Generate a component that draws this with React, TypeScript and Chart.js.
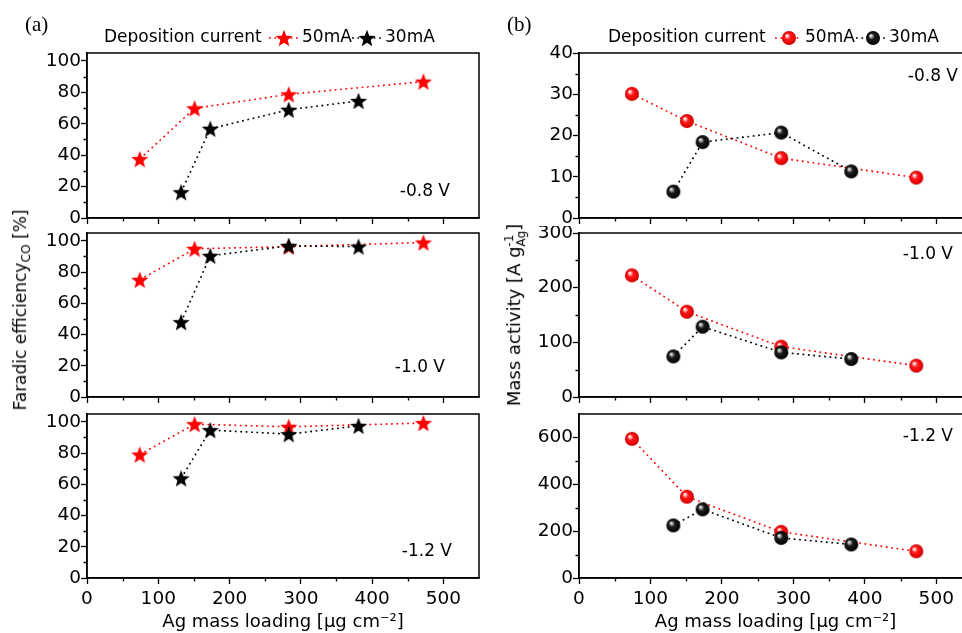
import React, { useEffect, useRef } from 'react';
import { Chart, registerables } from 'chart.js';

Chart.register(...registerables);

const FONT = '"DejaVu Sans", "Liberation Sans", sans-serif';

// Ag mass loading [µg cm-2]
const loading50mA = [74, 151, 283, 472];
const loading30mA = [132, 173, 283, 381];

// Faradic efficiency CO [%]
const fe50mA_08 = [37.5, 69.8, 78.7, 86.8];
const fe30mA_08 = [16.4, 56.8, 68.9, 74.5];
const fe50mA_10 = [75.0, 94.9, 96.3, 98.9];
const fe30mA_10 = [47.9, 90.4, 96.8, 96.3];
const fe50mA_12 = [79.0, 98.5, 96.8, 99.2];
const fe30mA_12 = [63.8, 94.7, 92.1, 97.4];

// Mass activity [A g-1 Ag]
const ma50mA_08 = [30.1, 23.5, 14.5, 9.8];
const ma30mA_08 = [6.4, 18.4, 20.7, 11.3];
const ma50mA_10 = [222.5, 156, 92, 57.3];
const ma30mA_10 = [74.3, 128.6, 81.6, 69.5];
const ma50mA_12 = [594, 347, 197, 114];
const ma30mA_12 = [224.6, 293, 171, 143];

const xMax = 550;
const xStep = 100;
const feMax = 105;
const feStep = 20;
const maMax = [40, 300, 700];
const maStep = [10, 100, 200];

const voltageLabels = ['-0.8 V', '-1.0 V', '-1.2 V'];
const legendTitle = 'Deposition current';
const seriesNames = ['50mA', '30mA'];
const xTitle = 'Ag mass loading [\u03BCg cm\u207B\u00B2]';

const RED = '#ff0000';
const BLACK = '#000000';

function makeStar(color: string) {
  const s = 20;
  const c = document.createElement('canvas');
  c.width = s;
  c.height = s;
  const ctx = c.getContext('2d')!;
  const R = 9;
  const r = R * 0.43;
  const cx = s / 2;
  const cy = s / 2 + 0.85;
  ctx.beginPath();
  for (let i = 0; i < 10; i++) {
    const ang = -Math.PI / 2 + (i * Math.PI) / 5;
    const rad = i % 2 === 0 ? R : r;
    const px = cx + rad * Math.cos(ang);
    const py = cy + rad * Math.sin(ang);
    if (i === 0) ctx.moveTo(px, py);
    else ctx.lineTo(px, py);
  }
  ctx.closePath();
  ctx.fillStyle = color;
  ctx.fill();
  return c;
}

function makeBall(kind: 'red' | 'black') {
  const s = 16;
  const c = document.createElement('canvas');
  c.width = s;
  c.height = s;
  const ctx = c.getContext('2d')!;
  const cx = s / 2;
  const cy = s / 2;
  const r = 7;
  const g = ctx.createRadialGradient(cx - 2.4, cy - 2.6, 0.2, cx, cy, r);
  if (kind === 'red') {
    g.addColorStop(0, '#ffffff');
    g.addColorStop(0.18, '#ffb5b5');
    g.addColorStop(0.4, '#ff1a1a');
    g.addColorStop(0.85, '#e80000');
    g.addColorStop(1, '#b00000');
  } else {
    g.addColorStop(0, '#ffffff');
    g.addColorStop(0.16, '#b0b0b0');
    g.addColorStop(0.42, '#1c1c1c');
    g.addColorStop(1, '#000000');
  }
  ctx.beginPath();
  ctx.arc(cx, cy, r, 0, Math.PI * 2);
  ctx.fillStyle = g;
  ctx.fill();
  return c;
}

type TextItem = { text: string; x: number; y: number; align: CanvasTextAlign; font: string };
type LegendCfg = { y: number; titleX: number; items: { x0: number; x1: number; cx: number; textX: number }[] };
type PanelCfg = {
  key: string;
  left: number;
  top: number;
  w: number;
  h: number;
  padTop: number;
  padRight: number;
  yWidth: number;
  xHeight: number;
  yMax: number;
  yStep: number;
  d50: number[];
  d30: number[];
  marker: 'star' | 'ball';
  showX: boolean;
  texts: TextItem[];
  legend?: LegendCfg;
};

const vFont = `17px ${FONT}`;
const serifFont = '21px "Liberation Serif", "DejaVu Serif", serif';

const panels: PanelCfg[] = [
  {
    key: 'a1', left: 0, top: 0, w: 490, h: 226, padTop: 53, padRight: 11, yWidth: 87, xHeight: 8,
    yMax: feMax, yStep: feStep, d50: fe50mA_08, d30: fe30mA_08, marker: 'star', showX: false,
    texts: [
      { text: '(a)', x: 25, y: 25, align: 'left', font: serifFont },
      { text: voltageLabels[0], x: 450, y: 192, align: 'right', font: vFont },
    ],
    legend: { y: 38, titleX: 104, items: [
      { x0: 269, x1: 299, cx: 284, textX: 302 },
      { x0: 352, x1: 382, cx: 367, textX: 385 },
    ] },
  },
  {
    key: 'a2', left: 0, top: 226, w: 490, h: 179, padTop: 7, padRight: 11, yWidth: 87, xHeight: 8,
    yMax: feMax, yStep: feStep, d50: fe50mA_10, d30: fe30mA_10, marker: 'star', showX: false,
    texts: [{ text: voltageLabels[1], x: 445, y: 368, align: 'right', font: vFont }],
  },
  {
    key: 'a3', left: 0, top: 405, w: 490, h: 228, padTop: 9, padRight: 11, yWidth: 87, xHeight: 55,
    yMax: feMax, yStep: feStep, d50: fe50mA_12, d30: fe30mA_12, marker: 'star', showX: true,
    texts: [{ text: voltageLabels[2], x: 452, y: 552, align: 'right', font: vFont }],
  },
  {
    key: 'b1', left: 490, top: 0, w: 490, h: 226, padTop: 53, padRight: 8, yWidth: 89, xHeight: 8,
    yMax: maMax[0], yStep: maStep[0], d50: ma50mA_08, d30: ma30mA_08, marker: 'ball', showX: false,
    texts: [
      { text: '(b)', x: 507, y: 25, align: 'left', font: serifFont },
      { text: voltageLabels[0], x: 958, y: 77, align: 'right', font: vFont },
    ],
    legend: { y: 38, titleX: 608, items: [
      { x0: 775, x1: 801, cx: 789, textX: 805 },
      { x0: 856, x1: 886, cx: 873, textX: 889 },
    ] },
  },
  {
    key: 'b2', left: 490, top: 226, w: 490, h: 179, padTop: 7, padRight: 8, yWidth: 89, xHeight: 8,
    yMax: maMax[1], yStep: maStep[1], d50: ma50mA_10, d30: ma30mA_10, marker: 'ball', showX: false,
    texts: [{ text: voltageLabels[1], x: 953, y: 255, align: 'right', font: vFont }],
  },
  {
    key: 'b3', left: 490, top: 405, w: 490, h: 228, padTop: 9, padRight: 8, yWidth: 89, xHeight: 55,
    yMax: maMax[2], yStep: maStep[2], d50: ma50mA_12, d30: ma30mA_12, marker: 'ball', showX: true,
    texts: [{ text: voltageLabels[2], x: 953, y: 437, align: 'right', font: vFont }],
  },
];

const DASH = [1.8, 3.6];

function decorPlugin(cfg: PanelCfg, m50: HTMLCanvasElement, m30: HTMLCanvasElement) {
  return {
    id: 'decor_' + cfg.key,
    afterDraw(chart: any) {
      const { ctx, chartArea: a } = chart;
      const xs = chart.scales.x;
      const ys = chart.scales.y;
      ctx.save();
      ctx.strokeStyle = '#000';
      ctx.lineWidth = 1.5;
      ctx.strokeRect(a.left, a.top, a.right - a.left, a.bottom - a.top);
      ctx.lineWidth = 1.3;
      ctx.beginPath();
      for (let v = xStep / 2; v < xMax; v += xStep) {
        const p = Math.round(xs.getPixelForValue(v)) + 0.5;
        ctx.moveTo(p, a.bottom);
        ctx.lineTo(p, a.bottom + 3.5);
      }
      for (let v = cfg.yStep / 2; v < cfg.yMax; v += cfg.yStep) {
        const p = Math.round(ys.getPixelForValue(v)) + 0.5;
        ctx.moveTo(a.left, p);
        ctx.lineTo(a.left - 3.5, p);
      }
      ctx.stroke();

      ctx.fillStyle = '#000';
      ctx.textBaseline = 'middle';
      for (const t of cfg.texts) {
        ctx.font = t.font;
        ctx.textAlign = t.align;
        ctx.fillText(t.text, t.x - cfg.left, t.y - cfg.top);
      }
      if (cfg.legend) {
        const L = cfg.legend;
        const oy = L.y - cfg.top;
        ctx.font = `17px ${FONT}`;
        ctx.textAlign = 'left';
        ctx.fillText(legendTitle, L.titleX - cfg.left, oy);
        L.items.forEach((it, i) => {
          const color = i === 0 ? RED : BLACK;
          const img = i === 0 ? m50 : m30;
          ctx.save();
          ctx.strokeStyle = color;
          ctx.lineWidth = 1.6;
          ctx.setLineDash(DASH);
          ctx.beginPath();
          ctx.moveTo(it.x0 - cfg.left, oy);
          ctx.lineTo(it.x1 - cfg.left, oy);
          ctx.stroke();
          ctx.restore();
          ctx.drawImage(img, it.cx - cfg.left - img.width / 2, oy - img.height / 2);
          ctx.fillStyle = '#000';
          ctx.fillText(seriesNames[i], it.textX - cfg.left, oy);
        });
      }
      ctx.restore();
    },
  };
}

function Panel({ cfg }: { cfg: PanelCfg }) {
  const ref = useRef<HTMLCanvasElement>(null);
  useEffect(() => {
    const canvas = ref.current;
    if (!canvas) return;
    const isStar = cfg.marker === 'star';
    const m50 = isStar ? makeStar(RED) : makeBall('red');
    const m30 = isStar ? makeStar(BLACK) : makeBall('black');
    const tickFont = { family: FONT, size: 18.5 };
    const chart = new Chart(canvas, {
      type: 'line',
      data: {
        datasets: [
          {
            label: seriesNames[1],
            data: loading30mA.map((x, i) => ({ x, y: cfg.d30[i] })),
            borderColor: BLACK,
            borderWidth: 1.6,
            borderDash: DASH,
            pointStyle: m30,
            pointRadius: 8,
            fill: false,
            tension: 0,
            order: 0,
          },
          {
            label: seriesNames[0],
            data: loading50mA.map((x, i) => ({ x, y: cfg.d50[i] })),
            borderColor: RED,
            borderWidth: 1.6,
            borderDash: DASH,
            pointStyle: m50,
            pointRadius: 8,
            fill: false,
            tension: 0,
            order: 1,
          },
        ],
      },
      options: {
        responsive: false,
        animation: false,
        devicePixelRatio: 1,
        layout: { padding: { top: cfg.padTop, left: 0, right: cfg.padRight, bottom: 0 }, autoPadding: false },
        plugins: { legend: { display: false }, tooltip: { enabled: false } },
        scales: {
          x: {
            type: 'linear',
            position: 'bottom',
            min: 0,
            max: xMax,
            ticks: { stepSize: xStep, includeBounds: false, display: cfg.showX, font: tickFont, color: '#000', padding: 4, maxRotation: 0 },
            grid: { drawOnChartArea: false, drawTicks: true, tickLength: 6, tickColor: '#000', tickWidth: 1.3 },
            border: { display: true, color: '#000', width: 1.5 },
            title: { display: cfg.showX, text: xTitle, font: { family: FONT, size: 18 }, color: '#000', padding: { top: 0, bottom: 0 } },
            afterFit: (s: any) => {
              s.height = cfg.xHeight;
              s.paddingLeft = 0;
              s.paddingRight = 0;
            },
          },
          y: {
            type: 'linear',
            position: 'left',
            min: 0,
            max: cfg.yMax,
            ticks: { stepSize: cfg.yStep, includeBounds: false, font: tickFont, color: '#000', padding: 0 },
            grid: { drawOnChartArea: false, drawTicks: true, tickLength: 6, tickColor: '#000', tickWidth: 1.3 },
            border: { display: true, color: '#000', width: 1.5 },
            afterFit: (s: any) => {
              s.width = cfg.yWidth;
              s.paddingTop = 0;
              s.paddingBottom = 0;
            },
          },
        },
      },
      plugins: [decorPlugin(cfg, m50, m30)],
    } as any);
    return () => chart.destroy();
  }, [cfg]);
  return (
    <canvas
      ref={ref}
      width={cfg.w}
      height={cfg.h}
      style={{ position: 'absolute', left: cfg.left, top: cfg.top, width: cfg.w, height: cfg.h }}
    />
  );
}

export default function App() {
  return (
    <div
      style={{
        position: 'absolute',
        left: 0,
        top: 0,
        width: 962,
        height: 633,
        overflow: 'hidden',
        background: '#fff',
      }}
    >
      {panels.map((p) => (
        <Panel key={p.key} cfg={p} />
      ))}
      <div
        style={{
          position: 'absolute',
          left: 22,
          top: 310,
          transform: 'translate(-50%, -50%) rotate(-90deg)',
          whiteSpace: 'nowrap',
          fontFamily: FONT,
          fontSize: 17,
          color: '#000',
          lineHeight: 1,
        }}
      >
        Faradic efficiency<sub style={{ fontSize: '0.72em', verticalAlign: '-0.3em' }}>CO</sub> [%]
      </div>
      <div
        style={{
          position: 'absolute',
          left: 516,
          top: 315,
          transform: 'translate(-50%, -50%) rotate(-90deg)',
          whiteSpace: 'nowrap',
          fontFamily: FONT,
          fontSize: 18,
          color: '#000',
          lineHeight: 1,
        }}
      >
        Mass activity [A g
        <span
          style={{
            display: 'inline-block',
            fontSize: '0.66em',
            lineHeight: 1.0,
            verticalAlign: '-0.45em',
            textAlign: 'left',
          }}
        >
          <span style={{ display: 'block' }}>-1</span>
          <span style={{ display: 'block' }}>Ag</span>
        </span>
        ]
      </div>
    </div>
  );
}
